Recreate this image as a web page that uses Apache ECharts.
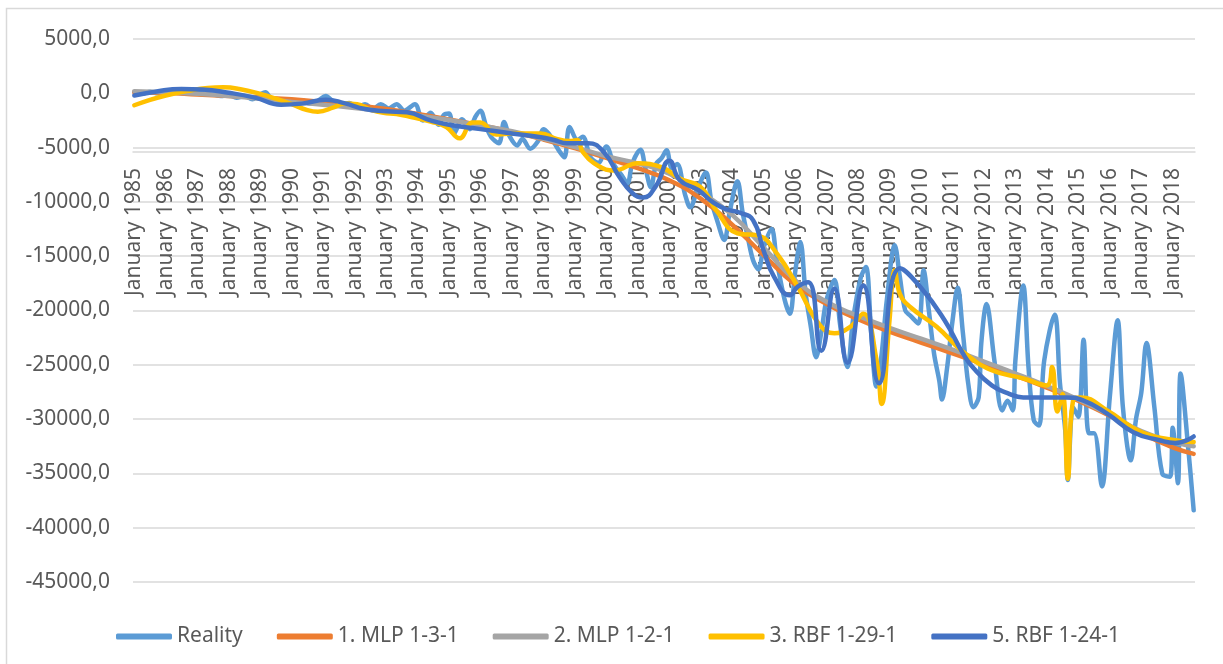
<!DOCTYPE html>
<html><head><meta charset="utf-8">
<script src="https://cdn.jsdelivr.net/npm/echarts@6/dist/echarts.min.js"></script>
<style>html,body{margin:0;padding:0;background:#fff}#c{width:1223px;height:664px}</style>
</head><body><div id="c"></div><script>
// month index = months since January 1985
const seriesNames = ['Reality', '1. MLP 1-3-1', '2. MLP 1-2-1', '3. RBF 1-29-1', '5. RBF 1-24-1'];
const seriesColors = ['#5B9BD5', '#ED7D31', '#A5A5A5', '#FFC000', '#4472C4'];
const xTickMonths = [0,12,24,36,48,60,72,84,96,108,120,132,144,156,168,180,192,204,216,228,240,252,264,276,288,300,312,324,336,348,360,372,384,396];
const xTickLabels = ['January 1985','January 1986','January 1987','January 1988','January 1989','January 1990','January 1991','January 1992','January 1993','January 1994','January 1995','January 1996','January 1997','January 1998','January 1999','January 2000','January 2001','January 2002','January 2003','January 2004','January 2005','January 2006','January 2007','January 2008','January 2009','January 2010','January 2011','January 2012','January 2013','January 2014','January 2015','January 2016','January 2017','January 2018'];

const realityMonths = [0,3,6,9,12,15,18,21,24,27,30,33,36,39,42,45,48,50,52,55,58,61,64,67,70,73,76,79,82,85,88,91,94,97,100,103,107,110,113,116,118,120,122,125,128,130,132,134,136,139,141,143,146,148,151,154,156,158,160,162,164,166,169,171,174,177,180,183,186,188,190,193,195,197,199,201,203,205,207,210,212,215,218,220,222,225,227,230,232,234,236,238,240,243,245,248,250,252,254,256,258,260,262,264,267,269,271,272,274,277,279,281,283,285,287,290,292,294,296,299,301,303,305,307,308,310,312,314,316,318,320,322,323,325,328,331,333,335,336,339,341,343,345,347,351,353,355,356,358,360,362,364,366,369,372,375,377,380,382,384,386,389,392,395,396,398,399,402,404];
const realityValues = [100,-50,150,0,250,100,250,50,150,-50,-100,-250,-150,-400,-250,-550,-100,100,-450,-750,-550,-850,-650,-950,-700,-250,-800,-1100,-900,-1300,-1000,-1450,-1000,-1400,-1000,-1600,-1000,-2500,-1800,-2900,-2000,-1850,-3700,-2400,-3300,-2200,-1600,-2900,-4000,-4600,-2650,-3900,-4800,-4200,-5100,-4400,-3300,-3700,-4500,-5300,-5900,-3100,-4300,-4000,-5900,-6400,-4900,-6600,-7600,-8300,-6400,-5200,-7000,-8650,-6500,-6000,-5250,-6900,-6500,-9300,-10500,-8650,-7300,-9850,-11500,-13500,-11000,-8100,-11000,-13300,-15400,-16200,-14200,-12500,-15400,-19000,-20300,-16500,-13700,-18400,-21500,-24300,-22000,-19000,-17200,-21000,-24500,-25200,-21000,-17000,-16000,-22000,-27000,-24000,-19000,-14000,-17000,-20000,-20500,-21200,-16300,-20000,-24000,-26500,-28200,-25200,-21000,-17900,-22100,-26700,-28900,-28000,-23000,-19400,-24600,-29200,-28300,-29200,-24600,-17700,-25200,-30100,-30600,-24600,-20400,-26700,-31000,-35600,-28900,-29800,-22700,-31300,-31300,-36200,-28000,-20900,-28900,-33800,-30000,-27600,-23000,-28900,-35000,-35300,-30800,-35900,-25800,-32900,-38400];

const mlp131Months = [0,12,24,36,48,60,72,84,96,108,120,132,144,156,168,180,192,204,216,228,240,252,264,276,288,300,312,324,336,348,360,372,384,396,404];
const mlp131Values = [100,50,-100,-250,-400,-550,-800,-1100,-1450,-1900,-2400,-2950,-3550,-4250,-5050,-5950,-6900,-8000,-9700,-12100,-14900,-17600,-19400,-20800,-21950,-22950,-23950,-24950,-26000,-27100,-28300,-29700,-31300,-32600,-33200];

const mlp121Months = [0,12,24,36,48,60,72,84,96,108,120,132,144,156,168,180,192,204,216,228,240,252,264,276,288,300,312,324,336,348,360,372,384,396,404];
const mlp121Values = [200,100,-50,-250,-500,-800,-1050,-1350,-1700,-2050,-2450,-2950,-3500,-4200,-4950,-5800,-6450,-7400,-9100,-11200,-14200,-17200,-19200,-20500,-21600,-22600,-23600,-24700,-25800,-26950,-28200,-29600,-31100,-32100,-32500];

const rbf129Months = [0,6,12,20,28,34,40,48,54,60,66,70,76,80,85,90,95,100,106,113,119,124,129,132,138,144,155,161,166,169,171,177,183,192,201,208,216,222,230,238,245,253,261,267,273,278,283,285,288,290,292,296,306,316,327,339,348,350,352,354,356,358,361,371,384,397,404];
const rbf129Values = [-1100,-600,-200,200,500,550,400,-50,-500,-1000,-1550,-1700,-1300,-950,-1000,-1500,-1800,-1900,-2200,-2600,-3100,-4150,-2700,-2700,-3800,-3700,-3700,-4200,-4400,-4300,-5400,-6700,-7100,-6450,-6800,-7850,-8650,-10800,-12900,-13100,-14750,-17800,-21200,-22100,-21500,-20300,-24500,-28600,-20900,-16300,-18500,-19700,-21500,-23800,-25500,-26250,-26900,-25200,-29300,-27700,-35500,-28300,-28000,-29200,-31200,-31950,-32100];

const rbf124Months = [0,8,18,26,36,46,56,64,73,80,88,96,104,113,120,132,144,155,160,165,173,179,185,190,194,199,204,208,215,221,226,231,236,240,244,250,253,257,262,267,272,278,284,292,300,309,316,320,327,333,339,346,355,362,371,381,391,397,404];
const rbf124Values = [-200,150,400,350,50,-400,-1050,-950,-600,-900,-1450,-1650,-1750,-2500,-2900,-3300,-3700,-4050,-4300,-4600,-4600,-5400,-7700,-9200,-9600,-8500,-6200,-8000,-8900,-10100,-10700,-11000,-11700,-14500,-16900,-18600,-17800,-17400,-23700,-18000,-24800,-17700,-26700,-16100,-17900,-20900,-23950,-25300,-26900,-27600,-28000,-28000,-28000,-28300,-29500,-31200,-31950,-32200,-31600];

const yMin = -45000, yMax = 5000, yStep = 5000;
const firstMonth = 0, lastMonth = 404;

const zip = (a, b) => a.map((m, i) => [m, b[i]]);
const seriesData = [
  zip(realityMonths, realityValues),
  zip(mlp131Months, mlp131Values),
  zip(mlp121Months, mlp121Values),
  zip(rbf129Months, rbf129Values),
  zip(rbf124Months, rbf124Values)
];
const smoothness = [0.35, 0.5, 0.5, 0.45, 0.5];

const FONT = 'Noto Sans';
const chart = echarts.init(document.getElementById('c'), null, {renderer: 'canvas'});
const option = {
  animation: false,
  backgroundColor: '#ffffff',
  color: seriesColors,
  graphic: [{
    type: 'rect', silent: true, z: -10,
    shape: {x: 6.5, y: 8.5, width: 1400, height: 800},
    style: {fill: 'none', stroke: '#d9d9d9', lineWidth: 1.5}
  }],
  grid: {left: 133, right: 28, top: 39, bottom: 82, containLabel: false},
  legend: {
    left: 111, top: 621, icon: 'roundRect', itemWidth: 56, itemHeight: 6, itemGap: 34,
    textStyle: {fontFamily: FONT, fontSize: 21, color: '#595959'},
    data: seriesNames
  },
  xAxis: {
    type: 'value', min: firstMonth - 0.5, max: lastMonth + 0.5, offset: 0,
    axisLine: {onZero: false, lineStyle: {color: '#d9d9d9', width: 1.5}},
    axisTick: {show: false},
    splitLine: {show: false},
    axisLabel: {
      customValues: xTickMonths, rotate: 90, margin: 16,
      fontFamily: FONT, fontSize: 21, color: '#595959',
      formatter: v => xTickLabels[xTickMonths.indexOf(Math.round(v))] || ''
    }
  },
  yAxis: {
    type: 'value', min: yMin, max: yMax, interval: yStep,
    axisLine: {show: false, onZero: false}, axisTick: {show: false},
    splitLine: {lineStyle: {color: '#d9d9d9', width: 1.5}},
    axisLabel: {
      margin: 23, fontFamily: FONT, fontSize: 21, color: '#595959',
      formatter: v => v.toFixed(1).replace('.', ',')
    }
  },
  series: seriesNames.map((name, i) => ({
    name, type: 'line', data: seriesData[i], showSymbol: false, symbol: 'none',
    smooth: smoothness[i], z: 2 + i,
    lineStyle: {width: 4.5, color: seriesColors[i], cap: 'round', join: 'round'},
    itemStyle: {color: seriesColors[i]}
  }))
};
chart.setOption(option);
// place the category axis on the zero line, measured through the library's y scale
const zeroY = chart.convertToPixel({yAxisIndex: 0}, 0);
const bottomY = chart.convertToPixel({yAxisIndex: 0}, yMin);
chart.setOption({xAxis: {offset: zeroY - bottomY}});
</script></body></html>
